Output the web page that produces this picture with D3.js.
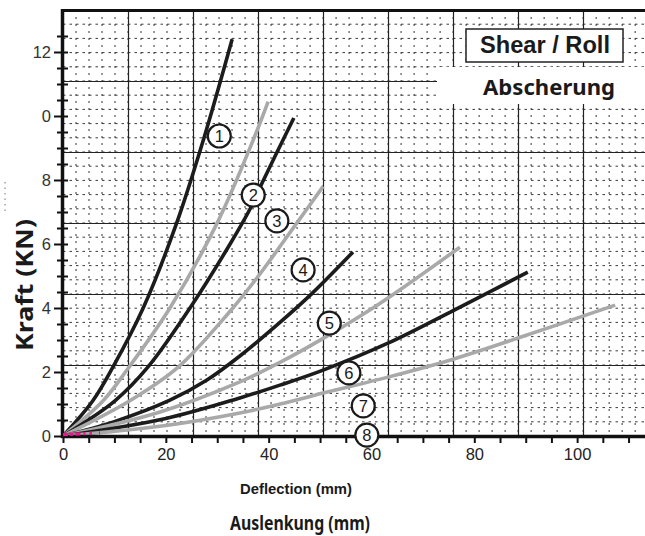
<!DOCTYPE html>
<html><head><meta charset="utf-8">
<script src="https://cdn.jsdelivr.net/npm/d3@7"></script>
<style>html,body{margin:0;padding:0;background:#fff;}svg{display:block;}</style>
</head><body>
<svg id="chart" width="645" height="536"></svg>
<script>
// ---- data ----
const curve1 = [[0,0],[5.8,1.1],[9.7,2.15],[15.6,4.0],[22.1,6.65],[27.3,9.25],[32.9,12.4]];
const curve2 = [[0,0],[7.8,1.1],[12.6,2.1],[20.8,4.0],[30,6.66],[37,9.25],[39.9,10.45]];
const curve3 = [[0,0],[10.1,1.1],[16.5,2.15],[24.7,4.0],[32.5,6.0],[36.4,7.1],[38.7,7.9],[44.9,9.94]];
const curve4 = [[0,0],[13,1.1],[22.4,2.15],[32.5,3.9],[38,5.0],[45.5,6.66],[50.6,7.8]];
const curve5 = [[0,0],[10,0.45],[20.8,1.12],[28,1.75],[34.4,2.5],[42.2,3.55],[48.4,4.45],[56.4,5.75]];
const curve6 = [[0,0],[18.9,0.75],[34.4,1.69],[42.2,2.3],[50.6,3.05],[61.7,4.15],[77.2,5.9]];
const curve7 = [[0,0],[20,0.55],[34.4,1.19],[42.2,1.59],[50.6,2.06],[63.2,2.9],[75.9,3.92],[90.4,5.12]];
const curve8 = [[0,0],[20,0.33],[34.4,0.72],[42.2,1.0],[50.6,1.34],[63.2,1.84],[75.9,2.4],[88.5,3.06],[107.4,4.09]];
const magentaTrace = [[0,0.04],[7.2,0.1]];
const curveNames = ["1","2","3","4","5","6","7","8"];
const labelMm = [30.4, 37.0, 41.6, 46.7, 51.8, 55.6, 58.4, 59.1];
const labelKn = [9.375, 7.53, 6.72, 5.19, 3.53, 1.97, 0.94, 0.03];
const xTickValues = [0,20,40,60,80,100];
const yTickValues = [0,2,4,6,8,10,12];
const yTickLabels = ["0","2","4","6","8","0","12"];
const titleTop = "Shear / Roll";
const titleBottom = "Abscherung";
const xTitleEn = "Deflection (mm)";
const xTitleDe = "Auslenkung (mm)";
const yTitle = "Kraft (KN)";

// ---- styles ----
const curveColors = ["#1c1c1c","#a9a9a9","#1c1c1c","#a9a9a9","#1c1c1c","#a9a9a9","#1c1c1c","#a9a9a9"];
const allCurves = [curve1,curve2,curve3,curve4,curve5,curve6,curve7,curve8];

const svg = d3.select("#chart");
const x = d3.scaleLinear().domain([0, 113.2]).range([63, 645]);
const y = d3.scaleLinear().domain([0, 13.3125]).range([436, 10]);

// graph-paper grid (independent of the axes ticks)
const gridMajorX = 12.646, gridMajorY = 2.21875;
const g = svg.append("g");
const minorXs = d3.range(gridMajorX/5, 113.2, gridMajorX/5);
const minorYs = d3.range(gridMajorY/5, 13.3, gridMajorY/5);
g.selectAll(".mvx").data(minorXs).join("line")
  .attr("x1", d=>x(d)).attr("x2", d=>x(d)).attr("y1", y(13.3125)).attr("y2", y(0))
  .attr("stroke","#333").attr("stroke-width",1).attr("stroke-dasharray","2,5");
g.selectAll(".mhy").data(minorYs).join("line")
  .attr("x1", x(0)).attr("x2", 645).attr("y1", d=>y(d)).attr("y2", d=>y(d))
  .attr("stroke","#3a3a3a").attr("stroke-width",1).attr("stroke-dasharray","2.5,4");
const majorXs = d3.range(gridMajorX, 113.2, gridMajorX);
const majorYs = d3.range(gridMajorY, 13.2, gridMajorY);
g.selectAll(".Mvx").data(majorXs).join("line")
  .attr("x1", d=>Math.round(x(d))+0.5).attr("x2", d=>Math.round(x(d))+0.5).attr("y1", y(13.3125)).attr("y2", y(0))
  .attr("stroke","#222").attr("stroke-width",1.2);
g.selectAll(".Mhy").data(majorYs).join("line")
  .attr("x1", x(0)).attr("x2", 645).attr("y1", d=>Math.round(y(d))+0.5).attr("y2", d=>Math.round(y(d))+0.5)
  .attr("stroke","#222").attr("stroke-width",1.2);

// white title areas
svg.append("rect").attr("x",437).attr("y",67).attr("width",208).attr("height",37).attr("fill","#fff");
svg.append("rect").attr("x",466).attr("y",29).attr("width",157).attr("height",33)
  .attr("fill","#fff").attr("stroke","#222").attr("stroke-width",1.5);
svg.append("text").attr("x",545).attr("y",53).attr("text-anchor","middle")
  .attr("font-family","Liberation Sans, Arial, sans-serif").attr("font-weight","bold").attr("font-size",23)
  .attr("textLength",130).attr("lengthAdjust","spacingAndGlyphs")
  .attr("fill","#1a1a1a").text(titleTop);
svg.append("text").attr("x",549).attr("y",95).attr("text-anchor","middle")
  .attr("font-family","Noto Sans, sans-serif").attr("font-weight","bold").attr("font-size",22)
  .attr("textLength",132).attr("lengthAdjust","spacingAndGlyphs")
  .attr("fill","#1a1a1a").text(titleBottom);

// curves
const line = d3.line().x(d=>x(d[0])).y(d=>y(d[1])).curve(d3.curveCatmullRom.alpha(0.5));
svg.append("g").selectAll("path").data(allCurves).join("path")
  .attr("d", line).attr("fill","none")
  .attr("stroke",(d,i)=>curveColors[i]).attr("stroke-width",3.6).attr("stroke-linecap","butt");

// axes
const xAxis = d3.axisBottom(x).tickValues(d3.range(0,113,5)).tickSize(7)
  .tickFormat(d => xTickValues.includes(d) ? String(d) : "");
const xg = svg.append("g").attr("transform","translate(0,436)").call(xAxis);
xg.select(".domain").remove();
xg.selectAll(".tick line").attr("stroke","#111").attr("stroke-width",2);
xg.selectAll(".tick text").attr("font-family","Liberation Sans, Arial, sans-serif").attr("font-size",16.5)
  .attr("fill","#222").attr("dy","0.95em").attr("y",8);
svg.append("line").attr("x1",61).attr("x2",645).attr("y1",436.5).attr("y2",436.5).attr("stroke","#111").attr("stroke-width",3.4);

const yAxis = d3.axisLeft(y).tickValues(d3.range(0,13,0.5)).tickSize(0).tickFormat("");
const yg = svg.append("g").attr("transform","translate(63,0)").call(yAxis);
yg.select(".domain").remove();
yg.selectAll(".tick").append("line")
  .attr("x1", d=> yTickValues.includes(d) ? -9 : -6).attr("x2", 5)
  .attr("stroke","#111").attr("stroke-width",2);
yg.selectAll(".ylab").data(yTickValues).join("text")
  .attr("x",-12).attr("y",d=>y(d)).attr("dy","0.36em").attr("text-anchor","end")
  .attr("font-family","Liberation Sans, Arial, sans-serif").attr("font-size",16.5).attr("fill","#333")
  .text((d,i)=>yTickLabels[i]);
svg.append("line").attr("x1",62.5).attr("x2",62.5).attr("y1",9).attr("y2",438).attr("stroke","#111").attr("stroke-width",3.5);
svg.append("line").attr("x1",61).attr("x2",645).attr("y1",10.5).attr("y2",10.5).attr("stroke","#111").attr("stroke-width",3);

// magenta trace near origin (drawn over the axis)
svg.append("path").attr("d", line(magentaTrace)).attr("fill","none")
  .attr("stroke","#e8188a").attr("stroke-width",3.2).attr("stroke-dasharray","5,1.5,4,2,5,3,2,4,2.5,7,2,40");

// numbered circle labels
const lg = svg.append("g").selectAll("g").data(curveNames).join("g")
  .attr("transform",(d,i)=>`translate(${x(labelMm[i])},${y(labelKn[i])})`);
lg.append("circle").attr("r",11.5).attr("fill","#fff").attr("stroke","#1a1a1a").attr("stroke-width",2.2);
lg.append("text").attr("text-anchor","middle").attr("dy","0.36em")
  .attr("font-family","Liberation Sans, Arial, sans-serif").attr("font-size",16.5).attr("fill","#1a1a1a")
  .text(d=>d);

// axis titles
svg.append("text").attr("x",296).attr("y",494).attr("text-anchor","middle")
  .attr("font-family","Liberation Sans, Arial, sans-serif").attr("font-weight","bold").attr("font-size",14.5)
  .attr("textLength",112).attr("lengthAdjust","spacingAndGlyphs")
  .attr("fill","#1a1a1a").text(xTitleEn);
svg.append("text").attr("x",300).attr("y",530).attr("text-anchor","middle")
  .attr("font-family","Noto Sans, sans-serif").attr("font-weight","bold").attr("font-size",19)
  .attr("textLength",140).attr("lengthAdjust","spacingAndGlyphs")
  .attr("fill","#1a1a1a").text(xTitleDe);
svg.append("text").attr("transform","translate(33,285) rotate(-90)").attr("text-anchor","middle")
  .attr("font-family","Noto Sans, sans-serif").attr("font-weight","bold").attr("font-size",23)
  .attr("textLength",132).attr("lengthAdjust","spacingAndGlyphs")
  .attr("fill","#1a1a1a").text(yTitle);
// faint dotted artefact left of the title
svg.append("line").attr("x1",5).attr("x2",5).attr("y1",182).attr("y2",213)
  .attr("stroke","#777").attr("stroke-width",1).attr("stroke-dasharray","1.5,4");
</script>
</body></html>
